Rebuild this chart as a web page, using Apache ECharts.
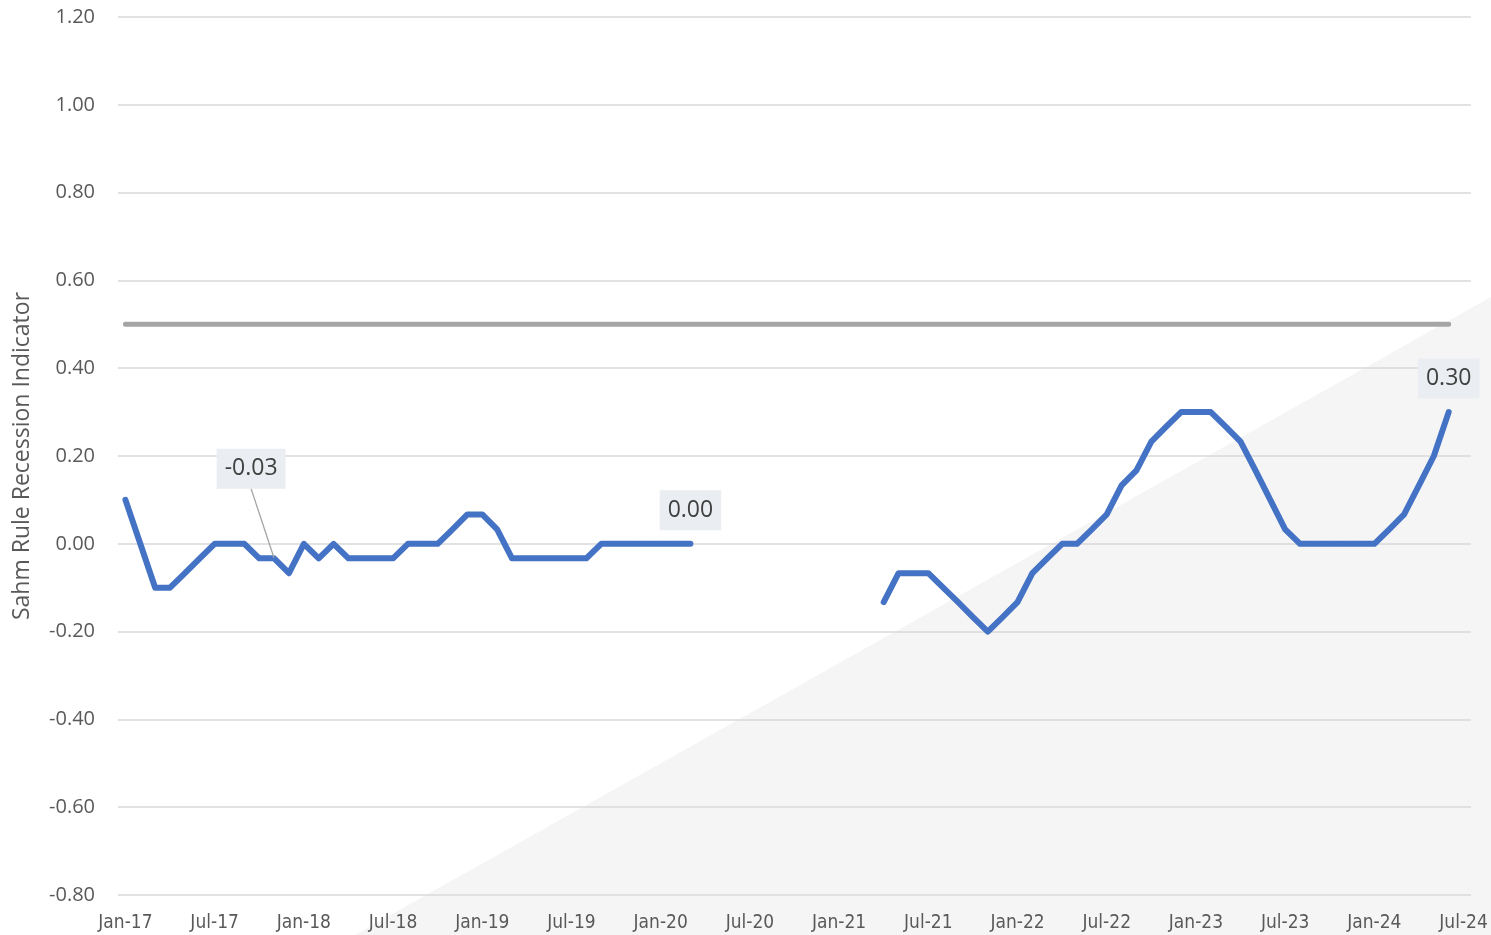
<!DOCTYPE html>
<html>
<head>
<meta charset="utf-8">
<script src="https://cdn.jsdelivr.net/npm/echarts@6/dist/echarts.min.js"></script>
<style>
html,body{margin:0;padding:0;background:#fff;}
#chart{width:1491px;height:935px;}
</style>
</head>
<body>
<div id="chart"></div>
<script>
// Month labels Jan-17 .. Jul-24
var monthNames = ['Jan','Feb','Mar','Apr','May','Jun','Jul','Aug','Sep','Oct','Nov','Dec'];
var years = ['17','18','19','20','21','22','23','24'];
var categories = [];
years.forEach(function (y) {
  monthNames.forEach(function (m) { categories.push(m + '-' + y); });
});
categories = categories.slice(0, 91); // through Jul-24

// Sahm Rule Recession Indicator (monthly, percentage points)
var sahm2017 = [0.10, 0.00, -0.10, -0.10, -0.067, -0.033, 0.00, 0.00, 0.00, -0.033, -0.033, -0.067];
var sahm2018 = [0.00, -0.033, 0.00, -0.033, -0.033, -0.033, -0.033, 0.00, 0.00, 0.00, 0.033, 0.067];
var sahm2019 = [0.067, 0.033, -0.033, -0.033, -0.033, -0.033, -0.033, -0.033, 0.00, 0.00, 0.00, 0.00];
var sahm2020 = [0.00, 0.00, 0.00, null, null, null, null, null, null, null, null, null];
var sahm2021 = [null, null, null, -0.133, -0.067, -0.067, -0.067, -0.10, -0.133, -0.167, -0.20, -0.167];
var sahm2022 = [-0.133, -0.067, -0.033, 0.00, 0.00, 0.033, 0.067, 0.133, 0.167, 0.233, 0.267, 0.30];
var sahm2023 = [0.30, 0.30, 0.267, 0.233, 0.167, 0.10, 0.033, 0.00, 0.00, 0.00, 0.00, 0.00];
var sahm2024 = [0.00, 0.033, 0.067, 0.133, 0.20, 0.30, null];
var sahmValues = [].concat(sahm2017, sahm2018, sahm2019, sahm2020, sahm2021, sahm2022, sahm2023, sahm2024);

// Recession threshold
var thresholdValue = 0.5;
var thresholdValues = categories.map(function (c, i) { return i < 90 ? thresholdValue : null; });

// Labelled points
var labelledIdx = [10, 38, 89]; // Nov-17, Mar-20, Jun-24

var yTicks = { min: -0.8, max: 1.2, interval: 0.2 };

var labelBox = {
  show: true,
  position: 'top',
  distance: 13,
  fontFamily: 'Open Sans',
  fontSize: 23,
  lineHeight: 28,
  color: '#404040',
  backgroundColor: '#eaedf1',
  padding: [6, 8, 6, 8],
  formatter: function (p) { return Number(p.value).toFixed(2); }
};

var seriesData = sahmValues.map(function (v, i) {
  if (labelledIdx.indexOf(i) >= 0) {
    var item = { value: v, label: labelBox };
    if (i === 10) {
      item.labelLine = { show: true, lineStyle: { color: '#a6a6a6', width: 1.3 } };
    }
    return item;
  }
  return v;
});

var chart = echarts.init(document.getElementById('chart'), null, { renderer: 'canvas' });
chart.setOption({
  animation: false,
  backgroundColor: '#ffffff',
  graphic: [{
    type: 'polygon',
    z: -10,
    silent: true,
    shape: { points: [[355, 935], [1491, 297], [1491, 935]] },
    style: { fill: '#f5f5f5' }
  }],
  grid: { left: 118, right: 20, top: 17, bottom: 40, containLabel: false },
  xAxis: {
    type: 'category',
    data: categories,
    boundaryGap: true,
    axisLine: { show: false },
    axisTick: { show: false },
    axisLabel: {
      interval: 5,
      margin: 19,
      fontFamily: "'DejaVu Sans Condensed', 'Liberation Sans Narrow', 'Noto Sans', sans-serif",
      fontSize: 19,
      color: '#595959'
    },
    splitLine: { show: false }
  },
  yAxis: {
    type: 'value',
    min: yTicks.min,
    max: yTicks.max,
    interval: yTicks.interval,
    name: 'Sahm Rule Recession Indicator',
    nameLocation: 'middle',
    nameGap: 84,
    nameRotate: 90,
    nameTextStyle: { fontFamily: 'Open Sans', fontSize: 23, color: '#595959' },
    axisLine: { show: false },
    axisTick: { show: false },
    axisLabel: {
      margin: 23,
      fontFamily: 'Open Sans',
      fontSize: 20,
      color: '#595959',
      formatter: function (v) { return v.toFixed(2); }
    },
    splitLine: { lineStyle: { color: '#d9d9d9', width: 1.5 } }
  },
  series: [
    {
      name: 'Threshold',
      type: 'line',
      data: thresholdValues,
      showSymbol: false,
      silent: true,
      lineStyle: { color: '#a5a5a5', width: 5, cap: 'round' },
      z: 2
    },
    {
      name: 'Sahm Rule',
      type: 'line',
      data: seriesData,
      connectNulls: false,
      symbol: 'circle',
      symbolSize: 1,
      showSymbol: true,
      itemStyle: { color: '#4472c4' },
      lineStyle: { color: '#4472c4', width: 6, cap: 'round', join: 'round' },
      label: { show: false },
      labelLayout: function (p) {
        if (p.dataIndex === 10) return { dx: -23, dy: -56 };
        return {};
      },
      z: 3
    }
  ]
});
</script>
</body>
</html>
